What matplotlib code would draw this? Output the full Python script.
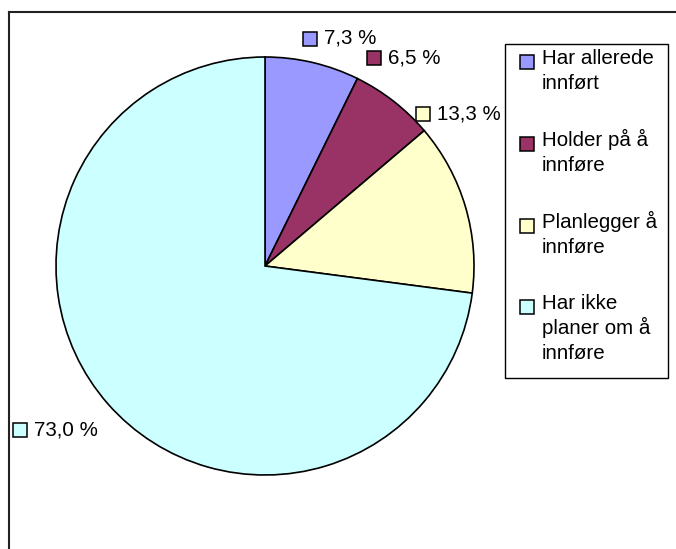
import matplotlib
matplotlib.use("Agg")
import matplotlib.pyplot as plt
from matplotlib.patches import Rectangle
from matplotlib.lines import Line2D

# data
categories = ["Har allerede\ninnført", "Holder på å\ninnføre",
              "Planlegger å\ninnføre", "Har ikke\nplaner om å\ninnføre"]
values = [7.3, 6.5, 13.3, 73.0]
value_labels = ["7,3 %", "6,5 %", "13,3 %", "73,0 %"]
colors = ["#9999FF", "#993366", "#FFFFCC", "#CCFFFF"]

plt.rcParams['font.family'] = ['Liberation Sans', 'DejaVu Sans']
FS = 14.8

W, H = 676, 549
fig = plt.figure(figsize=(W / 100, H / 100), dpi=100)


def fx(x):
    return x / W


def fy(y):
    return 1 - y / H


def key_box(x, y, color, size=14):
    # small legend-key square, x/y = top-left corner in pixels
    fig.add_artist(Rectangle((fx(x), fy(y + size)), size / W, size / H,
                             transform=fig.transFigure, facecolor=color,
                             edgecolor='black', linewidth=1.1))


# outer frame (only the top and left edges show)
fig.add_artist(Line2D([fx(9), 1], [fy(12), fy(12)], color='#222222', lw=1.5))
fig.add_artist(Line2D([fx(9), fx(9)], [fy(12), 0], color='#222222', lw=1.5))

# pie
cx, cy, r = 265, 266, 209
ax = fig.add_axes([fx(cx - r), fy(cy + r), 2 * r / W, 2 * r / H])
wedges, _ = ax.pie(values, colors=colors, startangle=90, counterclock=False,
                   wedgeprops=dict(edgecolor='black', linewidth=1.2))
ax.set_xlim(-1, 1)
ax.set_ylim(-1, 1)
ax.axis('off')

# data labels with key squares (top-left of square, pixels)
label_xy = [(303, 32), (367, 51), (416, 107), (13, 423)]
for (x, y), lab, c in zip(label_xy, value_labels, colors):
    key_box(x, y, c)
    fig.text(fx(x + 21), fy(y + 12), lab, fontsize=FS, ha='left', va='baseline')

# legend box
fig.add_artist(Rectangle((fx(505), fy(378)), (668 - 505) / W, (378 - 44) / H,
                         transform=fig.transFigure, facecolor='white',
                         edgecolor='black', linewidth=1.0))
entry_base = [64, 146, 228, 309]
line_gap = 25
for yb, cat, c in zip(entry_base, categories, colors):
    key_box(520, yb - 9, c)
    for i, line in enumerate(cat.split("\n")):
        fig.text(fx(542), fy(yb + i * line_gap), line, fontsize=FS,
                 ha='left', va='baseline')

fig.savefig("out.png", dpi=100, facecolor='white')
